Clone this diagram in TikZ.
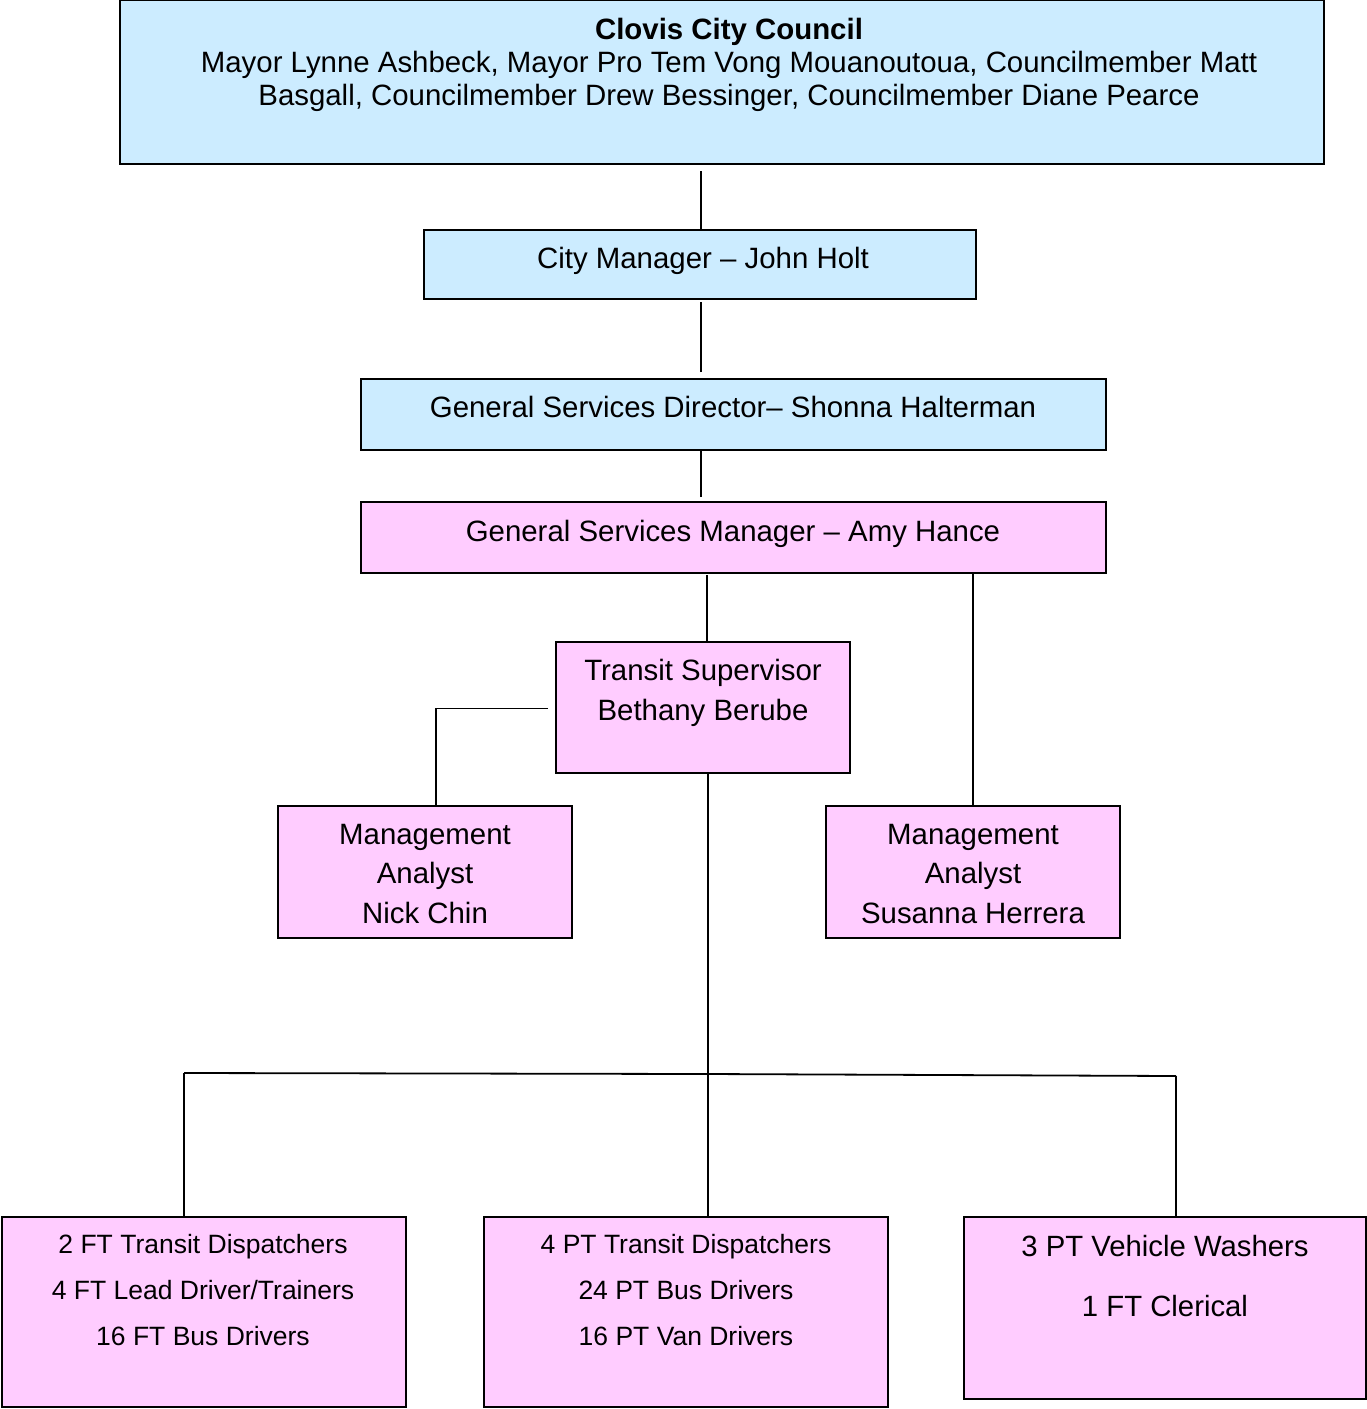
\documentclass[tikz,border=0pt]{standalone}
\usepackage{fontspec}
\setmainfont{Liberation Sans}
\definecolor{boxblue}{HTML}{CCECFF}
\definecolor{boxpink}{HTML}{FFCCFF}

\begin{document}
\begin{tikzpicture}[x=1pt,y=-1pt,line width=1.8pt,
    bluebox/.style={draw,fill=boxblue,inner sep=0pt},
    pinkbox/.style={draw,fill=boxpink,inner sep=0pt},
    lbl/.style={align=center,inner sep=0pt,font=\fontsize{29.4}{39.5}\selectfont},
    small/.style={lbl,font=\fontsize{26.5}{46}\selectfont}]
      \useasboundingbox (0,0) rectangle (1367,1409) ;
      % boxes
      \node[bluebox,minimum width=1204pt,minimum height=164pt] (council) at (722,82) {} ;
      \node[bluebox,minimum width=552pt,minimum height=69pt] (citymgr) at (700,264.5) {} ;
      \node[bluebox,minimum width=745pt,minimum height=71pt] (gsdir) at (733.5,414.5) {} ;
      \node[pinkbox,minimum width=745pt,minimum height=71pt] (gsmgr) at (733.5,537.5) {} ;
      \node[pinkbox,minimum width=294pt,minimum height=131pt] (transup) at (703,707.5) {} ;
      \node[pinkbox,minimum width=294pt,minimum height=132pt] (analystA) at (425,872) {} ;
      \node[pinkbox,minimum width=294pt,minimum height=132pt] (analystB) at (973,872) {} ;
      \node[pinkbox,minimum width=404pt,minimum height=190pt] (dispft) at (204,1312) {} ;
      \node[pinkbox,minimum width=404pt,minimum height=190pt] (disppt) at (686,1312) {} ;
      \node[pinkbox,minimum width=402pt,minimum height=182pt] (washers) at (1165,1308) {} ;
      % texts
      \node[lbl,font=\fontsize{29.4}{33}\selectfont] (councilT) at (729,64.5)
        {\textbf{Clovis City Council}\\Mayor Lynne Ashbeck, Mayor Pro Tem Vong Mouanoutoua, Councilmember Matt\\%
         Basgall, Councilmember Drew Bessinger, Councilmember Diane Pearce} ;
      \node[lbl] (citymgrT) at (703,261) {City Manager -- John Holt} ;
      \node[lbl] (gsdirT) at (733,407) {General Services Director-- Shonna Halterman} ;
      \node[lbl] (gsmgrT) at (733,534) {General Services Manager -- Amy Hance} ;
      \node[lbl] (transupT) at (703,693) {Transit Supervisor\\Bethany Berube} ;
      \node[lbl] (analystAT) at (425,874) {Management\\Analyst\\Nick Chin} ;
      \node[lbl] (analystBT) at (973,874) {Management\\Analyst\\Susanna Herrera} ;
      \node[small] (dispftT) at (203,1290) {2 FT Transit Dispatchers\\4 FT Lead Driver/Trainers\\16 FT Bus Drivers} ;
      \node[small] (dispptT) at (686,1290) {4 PT Transit Dispatchers\\24 PT Bus Drivers\\16 PT Van Drivers} ;
      \node[lbl,font=\fontsize{29.3}{60}\selectfont] (washersT) at (1165,1276) {3 PT Vehicle Washers\\1 FT Clerical} ;
      % connectors
      \coordinate (bus) at (708,1074) ;
      \coordinate (busL) at (184,1073) ;
      \coordinate (busR) at (1176,1076) ;
      \draw (citymgr.north) ++(1,0) -- ++(0,-58) ;
      \draw (gsdir.north -| citymgr.north) ++(1,-6) -- ++(0,-70) ;
      \draw (gsmgr.north -| citymgr.north) ++(1,-4) -- ++(0,-46) ;
      \draw (transup.north) ++(4,0) -- ++(0,-66) ;
      \draw (analystB.north) -- (analystB.north |- gsmgr.south) ;
      \draw ([xshift=-7pt,yshift=-1pt]transup.west) -- ([xshift=11pt,yshift=-1pt]analystA.north |- transup.west)
        -- ([xshift=11pt]analystA.north) ;
      \draw (transup.south -| bus) -- (bus) ;
      \draw (busL) -- (bus) -- (busR) ;
      \draw (busL) -- (busL |- dispft.north) ;
      \draw (bus) -- (bus |- disppt.north) ;
      \draw (busR) -- (busR |- washers.north) ;
    \end{tikzpicture}
\end{document}
